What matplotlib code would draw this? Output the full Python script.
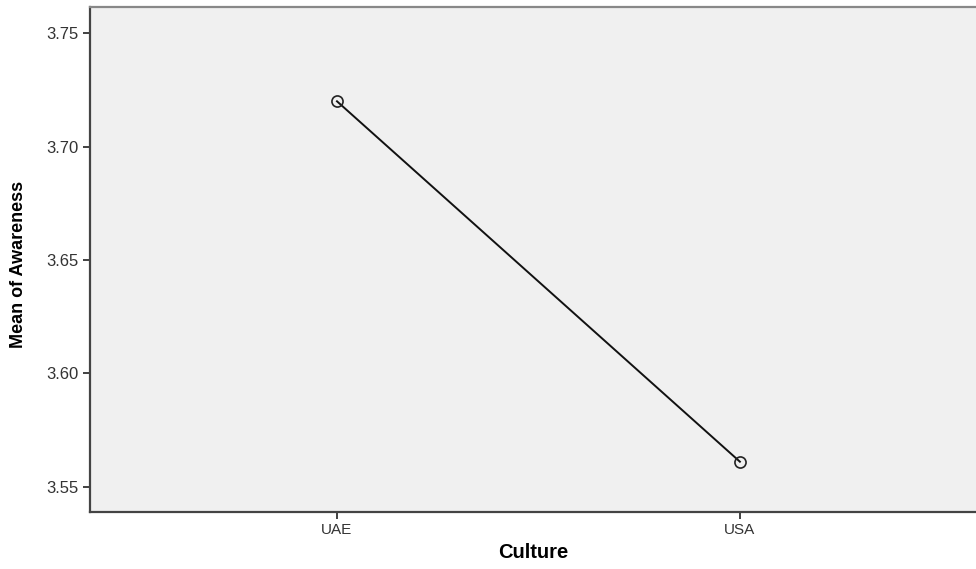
import matplotlib
matplotlib.use("Agg")
import matplotlib.pyplot as plt

categories = ["UAE", "USA"]
means = [3.720, 3.561]
yticks = [3.55, 3.60, 3.65, 3.70, 3.75]

fig = plt.figure(figsize=(9.76, 5.69), dpi=100)
ax = fig.add_axes([90/976, 57/569, 886/976, 505/569])
ax.set_facecolor("#f0f0f0")

x = list(range(len(categories)))
ax.plot(x, means, color="#111111", linewidth=1.4, marker="o", markersize=8,
        markerfacecolor="none", markeredgecolor="#222222", markeredgewidth=1.2)

ax.set_xlim(-0.613, 1.586)
ax.set_ylim(3.5388, 3.7616)
ax.set_xticks(x)
ax.set_xticklabels(categories, fontsize=11, color="#333333", family="Liberation Sans")
ax.set_yticks(yticks)
ax.set_yticklabels([f"{v:.2f}" for v in yticks], fontsize=12, color="#333333", family="Liberation Sans")
ax.tick_params(axis="both", direction="out", length=5, width=1.3, color="#333333", pad=3)

for s in ["left", "bottom"]:
    ax.spines[s].set_color("#444444")
    ax.spines[s].set_linewidth(1.6)
ax.spines["top"].set_color("#888888")
ax.spines["top"].set_linewidth(1.6)
ax.spines["right"].set_visible(False)

ax.set_xlabel("Culture", fontsize=14.5, fontweight="bold", family="Liberation Sans")
ax.xaxis.set_label_coords(0.5, -31/505)
ax.set_ylabel("Mean of Awareness", fontsize=13, fontweight="bold", family="Liberation Sans")
ax.yaxis.set_label_coords(-63/886, 0.5 - 5/505)

fig.savefig("out.png", dpi=100, facecolor="white")
